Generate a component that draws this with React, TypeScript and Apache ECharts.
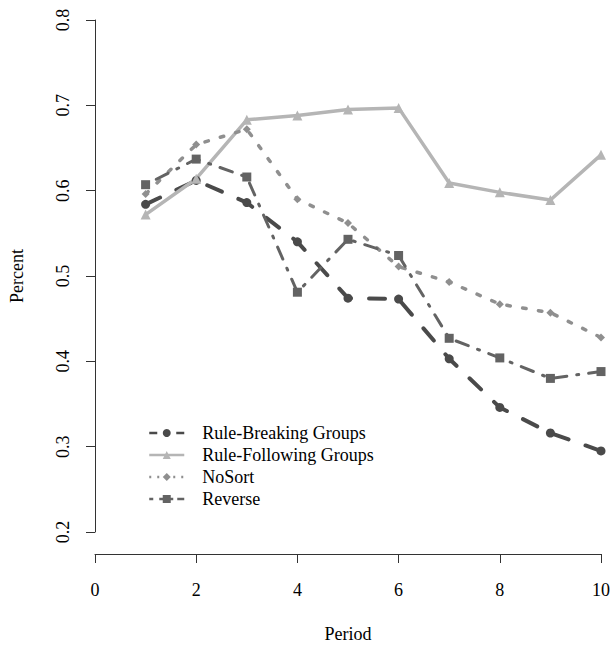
import React, { useEffect, useRef } from "react";
import * as echarts from "echarts";

const periods = [1, 2, 3, 4, 5, 6, 7, 8, 9, 10];
const ruleBreaking = [0.584, 0.612, 0.586, 0.54, 0.474, 0.473, 0.403, 0.346, 0.316, 0.295];
const ruleFollowing = [0.572, 0.614, 0.683, 0.688, 0.695, 0.697, 0.609, 0.598, 0.589, 0.642];
const noSort = [0.596, 0.654, 0.672, 0.59, 0.562, 0.511, 0.493, 0.467, 0.457, 0.428];
const reverse = [0.607, 0.637, 0.616, 0.481, 0.543, 0.524, 0.427, 0.404, 0.38, 0.388];
const seriesNames = ["Rule-Breaking Groups", "Rule-Following Groups", "NoSort", "Reverse"];

const FONT = "'Liberation Serif', 'Times New Roman', serif";
const C_BREAK = "#4a4a4a";
const C_FOLLOW = "#b5b5b5";
const C_NOSORT = "#8f8f8f";
const C_REVERSE = "#636363";

export default function App() {
  const ref = useRef<HTMLDivElement>(null);
  useEffect(() => {
    if (!ref.current) return;
    const chart = echarts.init(ref.current, null, { renderer: "svg" });
    const pair = (ys: number[]) => periods.map((p, i) => [p, ys[i]]);
    chart.setOption({
      animation: false,
      backgroundColor: "#ffffff",
      textStyle: { fontFamily: FONT },
      grid: { left: 94, right: 9, top: 20, bottom: 108 },
      xAxis: {
        type: "value",
        min: 0,
        max: 10,
        interval: 2,
        offset: 22,
        name: "Period",
        nameLocation: "middle",
        nameGap: 71,
        nameTextStyle: { fontFamily: FONT, fontSize: 18, color: "#000" },
        axisLine: { show: true, lineStyle: { color: "#333", width: 1 } },
        axisTick: { show: true, length: 9, lineStyle: { color: "#333" } },
        axisLabel: { margin: 27, fontFamily: FONT, fontSize: 18, color: "#000" },
        splitLine: { show: false },
      },
      yAxis: {
        type: "value",
        min: 0.2,
        max: 0.8,
        interval: 0.1,
        offset: 1,
        name: "Percent",
        nameLocation: "middle",
        nameRotate: 90,
        nameGap: 68,
        nameTextStyle: { fontFamily: FONT, fontSize: 18, color: "#000" },
        axisLine: { show: true, lineStyle: { color: "#333", width: 1 } },
        axisTick: { show: true, length: 9, lineStyle: { color: "#333" } },
        axisLabel: {
          rotate: 90,
          margin: 22,
          fontFamily: FONT,
          fontSize: 18,
          color: "#000",
          formatter: (v: number) => v.toFixed(1),
        },
        splitLine: { show: false },
      },
      legend: {
        orient: "vertical",
        left: 148,
        top: 424,
        padding: 0,
        itemWidth: 35,
        itemHeight: 10,
        itemGap: 4,
        data: [
          { name: seriesNames[0], lineStyle: { width: 2.5, type: [8, 19, 8], cap: "butt" } },
          { name: seriesNames[1], lineStyle: { width: 2.5, type: "solid" } },
          { name: seriesNames[2], lineStyle: { width: 2.5, type: [2, 6], cap: "butt" } },
          { name: seriesNames[3], lineStyle: { width: 2.5, type: [4, 6, 14, 4, 8], cap: "butt" } },
        ],
        textStyle: {
          fontFamily: FONT,
          fontSize: 18,
          lineHeight: 18,
          color: "#000",
          padding: [0, 0, 0, 13],
        },
      },
      series: [
        {
          name: seriesNames[0],
          type: "line",
          data: pair(ruleBreaking),
          symbol: "circle",
          symbolSize: 9,
          itemStyle: { color: C_BREAK },
          lineStyle: { color: C_BREAK, width: 4, type: [16, 18], cap: "round" },
        },
        {
          name: seriesNames[1],
          type: "line",
          data: pair(ruleFollowing),
          symbol: "triangle",
          symbolSize: 10,
          itemStyle: { color: C_FOLLOW },
          lineStyle: { color: C_FOLLOW, width: 3.5, type: "solid" },
        },
        {
          name: seriesNames[2],
          type: "line",
          data: pair(noSort),
          symbol: "diamond",
          symbolSize: 8,
          itemStyle: { color: C_NOSORT },
          lineStyle: { color: C_NOSORT, width: 3.5, type: [3.5, 12.5], cap: "round" },
        },
        {
          name: seriesNames[3],
          type: "line",
          data: pair(reverse),
          symbol: "rect",
          symbolSize: 9,
          itemStyle: { color: C_REVERSE },
          lineStyle: { color: C_REVERSE, width: 3, type: [2, 10, 13, 10], cap: "round" },
        },
      ],
    });
    return () => chart.dispose();
  }, []);
  return (
    <div
      ref={ref}
      style={{ position: "absolute", left: 0, top: 0, width: 613, height: 648 }}
    />
  );
}
